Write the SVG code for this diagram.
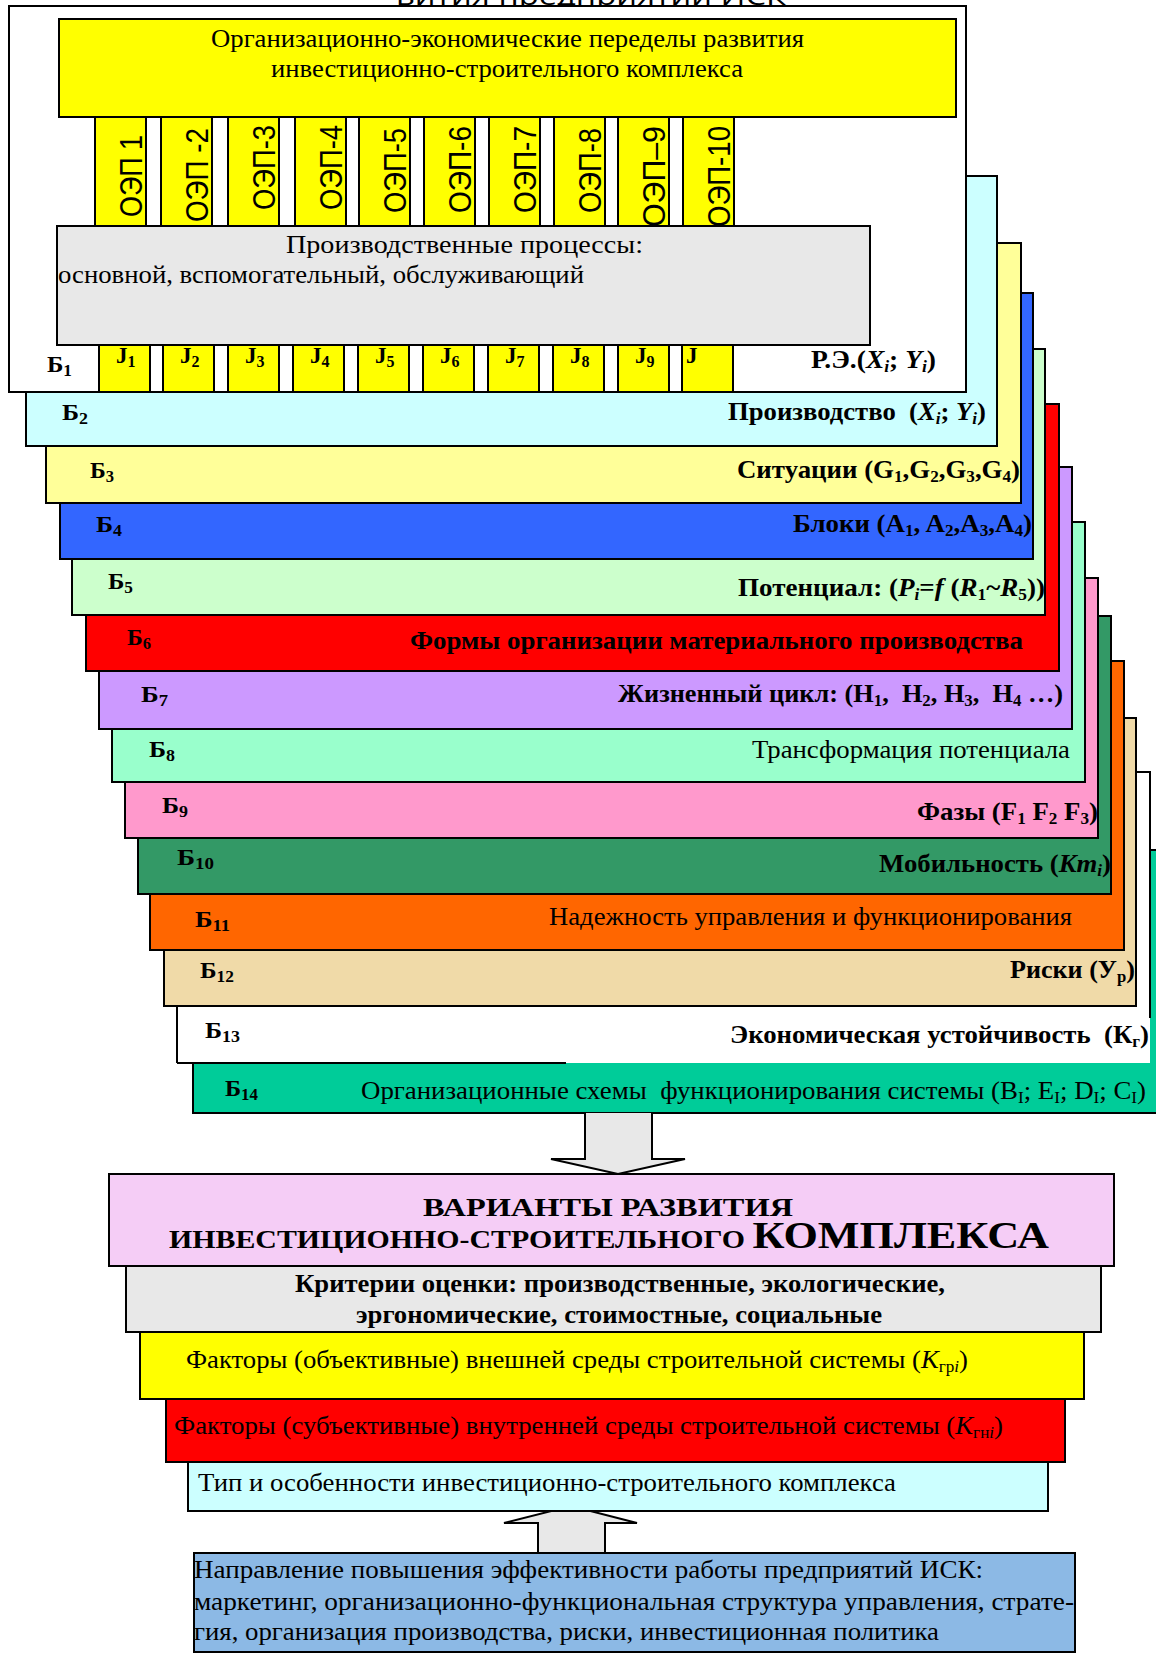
<svg xmlns="http://www.w3.org/2000/svg" width="1156" height="1677" viewBox="0 0 1156 1677">
  <style>
    .bx { stroke: #000; stroke-width: 2; }
    .ln { fill: none; stroke: #000; stroke-width: 2; }
    .t { font-family: "Liberation Serif", "Times New Roman", serif; font-size: 25px; fill: #000; }
    .tb { font-family: "Liberation Serif", "Times New Roman", serif; font-size: 25px; font-weight: bold; fill: #000; }
    .lb { font-family: "Liberation Serif", "Times New Roman", serif; font-size: 23px; font-weight: bold; fill: #000; }
    .sb { font-size: 16px; }
    .it { font-style: italic; }
    .oep { font-family: "Liberation Sans", Arial, sans-serif; font-size: 27px; fill: #000; }
    .arrow { fill: #e8e8e8; stroke: #000; stroke-width: 2; stroke-linejoin: miter; }
  </style>

  <rect width="1156" height="1677" fill="#fff"/>

  <!-- caption line running off the top edge -->
  <text x="396" y="5" font-family="'Open Sans', 'Liberation Sans', sans-serif" font-size="26" textLength="390" lengthAdjust="spacingAndGlyphs">вития предприятий ИСК</text>

  <!-- ===== stacked layers, lowest first ===== -->
  <g id="layer-b14">
    <rect class="bx" x="193" y="850" width="977" height="263" fill="#00cc99"/>
    <text class="lb" x="225" y="1096" textLength="33" lengthAdjust="spacingAndGlyphs">Б<tspan class="sb" dy="4">14</tspan></text>
    <text class="t" x="361" y="1099" textLength="785" lengthAdjust="spacingAndGlyphs" xml:space="preserve">Организационные схемы  функционирования системы (B<tspan class="sb" dy="4">I</tspan><tspan dy="-4">; E</tspan><tspan class="sb" dy="4">I</tspan><tspan dy="-4">; D</tspan><tspan class="sb" dy="4">I</tspan><tspan dy="-4">; C</tspan><tspan class="sb" dy="4">I</tspan><tspan dy="-4">)</tspan></text>
  </g>

  <g id="layer-b13">
    <rect x="177" y="772" width="973" height="291" fill="#fff"/>
    <path class="ln" d="M177,1063 L177,772 L1150,772 L1150,1018 M177,1063 L566,1063"/>
    <text class="lb" x="205" y="1038" textLength="35" lengthAdjust="spacingAndGlyphs">Б<tspan class="sb" dy="4">13</tspan></text>
    <text class="tb" x="730" y="1043" textLength="419" lengthAdjust="spacingAndGlyphs" xml:space="preserve">Экономическая устойчивость  (К<tspan class="sb" dy="4">г</tspan><tspan dy="-4">)</tspan></text>
  </g>

  <g id="layer-b12">
    <rect class="bx" x="164" y="718" width="972" height="288" fill="#f0daa8"/>
    <text class="lb" x="200" y="978" textLength="34" lengthAdjust="spacingAndGlyphs">Б<tspan class="sb" dy="4">12</tspan></text>
    <text class="tb" x="1010" y="978" textLength="125" lengthAdjust="spacingAndGlyphs">Риски (У<tspan class="sb" dy="4">р</tspan><tspan dy="-4">)</tspan></text>
  </g>

  <g id="layer-b11">
    <rect class="bx" x="150" y="661" width="974" height="289" fill="#ff6600"/>
    <text class="lb" x="195" y="927" textLength="35" lengthAdjust="spacingAndGlyphs">Б<tspan class="sb" dy="4">11</tspan></text>
    <text class="t" x="549" y="925" textLength="523" lengthAdjust="spacingAndGlyphs">Надежность управления и функционирования</text>
  </g>

  <g id="layer-b10">
    <rect class="bx" x="138" y="616" width="973" height="278" fill="#339966"/>
    <text class="lb" x="177" y="865" textLength="37" lengthAdjust="spacingAndGlyphs">Б<tspan class="sb" dy="4">10</tspan></text>
    <text class="tb" x="879" y="872" textLength="232" lengthAdjust="spacingAndGlyphs">Мобильность (<tspan class="it">Km</tspan><tspan class="sb it" dy="4">i</tspan><tspan dy="-4">)</tspan></text>
  </g>

  <g id="layer-b9">
    <rect class="bx" x="125" y="578" width="973" height="260" fill="#ff99cc"/>
    <text class="lb" x="162" y="813" textLength="26" lengthAdjust="spacingAndGlyphs">Б<tspan class="sb" dy="4">9</tspan></text>
    <text class="tb" x="917" y="820" textLength="181" lengthAdjust="spacingAndGlyphs">Фазы (F<tspan class="sb" dy="4">1</tspan><tspan dy="-4"> F</tspan><tspan class="sb" dy="4">2</tspan><tspan dy="-4"> F</tspan><tspan class="sb" dy="4">3</tspan><tspan dy="-4">)</tspan></text>
  </g>

  <g id="layer-b8">
    <rect class="bx" x="112" y="522" width="973" height="260" fill="#99ffcc"/>
    <text class="lb" x="149" y="757" textLength="26" lengthAdjust="spacingAndGlyphs">Б<tspan class="sb" dy="4">8</tspan></text>
    <text class="t" x="752" y="758" textLength="318" lengthAdjust="spacingAndGlyphs">Трансформация потенциала</text>
  </g>

  <g id="layer-b7">
    <rect class="bx" x="99" y="467" width="973" height="262" fill="#cc99ff"/>
    <text class="lb" x="141" y="702" textLength="27" lengthAdjust="spacingAndGlyphs">Б<tspan class="sb" dy="4">7</tspan></text>
    <text class="tb" x="618" y="702" textLength="445" lengthAdjust="spacingAndGlyphs" xml:space="preserve">Жизненный цикл: (H<tspan class="sb" dy="4">1</tspan><tspan dy="-4">,  H</tspan><tspan class="sb" dy="4">2</tspan><tspan dy="-4">, H</tspan><tspan class="sb" dy="4">3</tspan><tspan dy="-4">,  H</tspan><tspan class="sb" dy="4">4</tspan><tspan dy="-4"> …)</tspan></text>
  </g>

  <g id="layer-b6">
    <rect class="bx" x="86" y="404" width="973" height="267" fill="#ff0000"/>
    <text class="lb" x="127" y="645" textLength="24" lengthAdjust="spacingAndGlyphs">Б<tspan class="sb" dy="4">6</tspan></text>
    <text class="tb" x="410" y="649" textLength="613" lengthAdjust="spacingAndGlyphs">Формы организации материального производства</text>
  </g>

  <g id="layer-b5">
    <rect class="bx" x="72" y="349" width="973" height="266" fill="#ccffcc"/>
    <text class="lb" x="108" y="589" textLength="25" lengthAdjust="spacingAndGlyphs">Б<tspan class="sb" dy="4">5</tspan></text>
    <text class="tb" x="738" y="596" textLength="307" lengthAdjust="spacingAndGlyphs">Потенциал: (<tspan class="it">P</tspan><tspan class="sb it" dy="4">i</tspan><tspan dy="-4">=</tspan><tspan class="it">f</tspan> (<tspan class="it">R</tspan><tspan class="sb" dy="4">1</tspan><tspan dy="-4">~</tspan><tspan class="it">R</tspan><tspan class="sb" dy="4">5</tspan><tspan dy="-4">))</tspan></text>
  </g>

  <g id="layer-b4">
    <rect class="bx" x="60" y="293" width="973" height="266" fill="#3366ff"/>
    <text class="lb" x="96" y="532" textLength="26" lengthAdjust="spacingAndGlyphs">Б<tspan class="sb" dy="4">4</tspan></text>
    <text class="tb" x="793" y="532" textLength="239" lengthAdjust="spacingAndGlyphs">Блоки (A<tspan class="sb" dy="4">1</tspan><tspan dy="-4">, A</tspan><tspan class="sb" dy="4">2</tspan><tspan dy="-4">,A</tspan><tspan class="sb" dy="4">3</tspan><tspan dy="-4">,A</tspan><tspan class="sb" dy="4">4</tspan><tspan dy="-4">)</tspan></text>
  </g>

  <g id="layer-b3">
    <rect class="bx" x="46" y="243" width="975" height="260" fill="#ffff99"/>
    <text class="lb" x="90" y="478" textLength="24" lengthAdjust="spacingAndGlyphs">Б<tspan class="sb" dy="4">3</tspan></text>
    <text class="tb" x="737" y="478" textLength="283" lengthAdjust="spacingAndGlyphs">Ситуации (G<tspan class="sb" dy="4">1</tspan><tspan dy="-4">,G</tspan><tspan class="sb" dy="4">2</tspan><tspan dy="-4">,G</tspan><tspan class="sb" dy="4">3</tspan><tspan dy="-4">,G</tspan><tspan class="sb" dy="4">4</tspan><tspan dy="-4">)</tspan></text>
  </g>

  <g id="layer-b2">
    <rect class="bx" x="26" y="176" width="971" height="270" fill="#ccffff"/>
    <text class="lb" x="62" y="420" textLength="26" lengthAdjust="spacingAndGlyphs">Б<tspan class="sb" dy="4">2</tspan></text>
    <text class="tb" x="728" y="420" textLength="258" lengthAdjust="spacingAndGlyphs" xml:space="preserve">Производство  (<tspan class="it">X</tspan><tspan class="sb it" dy="4">i</tspan><tspan dy="-4">; </tspan><tspan class="it">Y</tspan><tspan class="sb it" dy="4">i</tspan><tspan dy="-4">)</tspan></text>
  </g>

  <g id="layer-b1">
    <rect class="bx" x="9" y="6" width="957" height="386" fill="#fff"/>

    <!-- ОЭП columns -->
    <g id="oep-columns">
      <rect class="bx" x="95" y="117" width="51" height="228" fill="#ffff00"/>
      <rect class="bx" x="161" y="117" width="51" height="228" fill="#ffff00"/>
      <rect class="bx" x="228" y="117" width="51" height="228" fill="#ffff00"/>
      <rect class="bx" x="295" y="117" width="51" height="228" fill="#ffff00"/>
      <rect class="bx" x="359" y="117" width="51" height="228" fill="#ffff00"/>
      <rect class="bx" x="424" y="117" width="51" height="228" fill="#ffff00"/>
      <rect class="bx" x="489" y="117" width="51" height="228" fill="#ffff00"/>
      <rect class="bx" x="554" y="117" width="51" height="228" fill="#ffff00"/>
      <rect class="bx" x="618" y="117" width="51" height="228" fill="#ffff00"/>
      <rect class="bx" x="683" y="117" width="51" height="228" fill="#ffff00"/>
      <text class="oep" transform="translate(142,217) scale(1.15,1) rotate(-90)" textLength="82" lengthAdjust="spacingAndGlyphs">ОЭП 1</text>
      <text class="oep" transform="translate(208,222) scale(1.15,1) rotate(-90)" textLength="94" lengthAdjust="spacingAndGlyphs">ОЭП -2</text>
      <text class="oep" transform="translate(275,210) scale(1.15,1) rotate(-90)" textLength="85" lengthAdjust="spacingAndGlyphs">ОЭП-3</text>
      <text class="oep" transform="translate(342,210) scale(1.15,1) rotate(-90)" textLength="85" lengthAdjust="spacingAndGlyphs">ОЭП-4</text>
      <text class="oep" transform="translate(406,213) scale(1.15,1) rotate(-90)" textLength="85" lengthAdjust="spacingAndGlyphs">ОЭП-5</text>
      <text class="oep" transform="translate(471,213) scale(1.15,1) rotate(-90)" textLength="87" lengthAdjust="spacingAndGlyphs">ОЭП-6</text>
      <text class="oep" transform="translate(536,213) scale(1.15,1) rotate(-90)" textLength="87" lengthAdjust="spacingAndGlyphs">ОЭП-7</text>
      <text class="oep" transform="translate(601,213) scale(1.15,1) rotate(-90)" textLength="85" lengthAdjust="spacingAndGlyphs">ОЭП-8</text>
      <text class="oep" transform="translate(665,227) scale(1.15,1) rotate(-90)" textLength="101" lengthAdjust="spacingAndGlyphs">ОЭП–9</text>
      <text class="oep" transform="translate(730,227) scale(1.15,1) rotate(-90)" textLength="101" lengthAdjust="spacingAndGlyphs">ОЭП-10</text>
    </g>

    <g id="title-box">
      <rect class="bx" x="59" y="19" width="897" height="98" fill="#ffff00"/>
      <text class="t" x="211" y="47" font-size="24" textLength="593" lengthAdjust="spacingAndGlyphs">Организационно-экономические переделы развития</text>
      <text class="t" x="271" y="77" font-size="24" textLength="472" lengthAdjust="spacingAndGlyphs">инвестиционно-строительного комплекса</text>
    </g>

    <g id="processes-box">
      <rect class="bx" x="57" y="226" width="813" height="119" fill="#e8e8e8"/>
      <text class="t" x="286" y="253" font-size="24" textLength="357" lengthAdjust="spacingAndGlyphs">Производственные процессы:</text>
      <text class="t" x="58" y="283" font-size="24" textLength="526" lengthAdjust="spacingAndGlyphs">основной, вспомогательный, обслуживающий</text>
    </g>

    <!-- J cells -->
    <g id="j-cells">
      <rect class="bx" x="99" y="345" width="51" height="47" fill="#ffff00"/>
      <rect class="bx" x="163" y="345" width="51" height="47" fill="#ffff00"/>
      <rect class="bx" x="228" y="345" width="51" height="47" fill="#ffff00"/>
      <rect class="bx" x="293" y="345" width="51" height="47" fill="#ffff00"/>
      <rect class="bx" x="358" y="345" width="51" height="47" fill="#ffff00"/>
      <rect class="bx" x="423" y="345" width="51" height="47" fill="#ffff00"/>
      <rect class="bx" x="488" y="345" width="51" height="47" fill="#ffff00"/>
      <rect class="bx" x="553" y="345" width="51" height="47" fill="#ffff00"/>
      <rect class="bx" x="618" y="345" width="51" height="47" fill="#ffff00"/>
      <rect class="bx" x="682" y="345" width="51" height="47" fill="#ffff00"/>
      <text class="lb" x="116" y="363">J<tspan class="sb" dy="4">1</tspan></text>
      <text class="lb" x="180" y="363">J<tspan class="sb" dy="4">2</tspan></text>
      <text class="lb" x="245" y="363">J<tspan class="sb" dy="4">3</tspan></text>
      <text class="lb" x="310" y="363">J<tspan class="sb" dy="4">4</tspan></text>
      <text class="lb" x="375" y="363">J<tspan class="sb" dy="4">5</tspan></text>
      <text class="lb" x="440" y="363">J<tspan class="sb" dy="4">6</tspan></text>
      <text class="lb" x="505" y="363">J<tspan class="sb" dy="4">7</tspan></text>
      <text class="lb" x="570" y="363">J<tspan class="sb" dy="4">8</tspan></text>
      <text class="lb" x="635" y="363">J<tspan class="sb" dy="4">9</tspan></text>
      <text class="lb" x="686" y="363">J</text>
    </g>

    <text class="lb" x="47" y="372" textLength="25" lengthAdjust="spacingAndGlyphs">Б<tspan class="sb" dy="4">1</tspan></text>
    <text class="tb" x="811" y="368" textLength="125" lengthAdjust="spacingAndGlyphs">Р.Э.(<tspan class="it">X</tspan><tspan class="sb it" dy="4">i</tspan><tspan dy="-4">; </tspan><tspan class="it">Y</tspan><tspan class="sb it" dy="4">i</tspan><tspan dy="-4">)</tspan></text>
  </g>

  <!-- ===== block arrows ===== -->
  <g id="connectors">
    <path class="arrow" d="M585,1113 L585,1159 L551,1159 L618,1174 L685,1159 L652,1159 L652,1113"/>
    <path class="arrow" d="M538,1553 L538,1523 L504,1523 L571,1506 L637,1523 L605,1523 L605,1553"/>
  </g>

  <!-- ===== lower column of boxes ===== -->
  <g id="criteria-box">
    <rect class="bx" x="126" y="1266" width="975" height="66" fill="#e8e8e8"/>
    <text class="tb" x="295" y="1292" font-size="24" textLength="650" lengthAdjust="spacingAndGlyphs">Критерии оценки: производственные, экологические,</text>
    <text class="tb" x="356" y="1323" font-size="24" textLength="526" lengthAdjust="spacingAndGlyphs">эргономические, стоимостные, социальные</text>
  </g>

  <g id="variants-box">
    <rect class="bx" x="109" y="1174" width="1005" height="92" fill="#f5cdf6"/>
    <text class="tb" x="423" y="1216" font-size="31" textLength="370" lengthAdjust="spacingAndGlyphs">ВАРИАНТЫ РАЗВИТИЯ</text>
    <text class="tb" x="169" y="1248" font-size="31" textLength="880" lengthAdjust="spacingAndGlyphs">ИНВЕСТИЦИОННО-СТРОИТЕЛЬНОГО <tspan font-size="37">КОМПЛЕКСА</tspan></text>
  </g>

  <g id="external-factors">
    <rect class="bx" x="140" y="1332" width="944" height="67" fill="#ffff00"/>
    <text class="t" x="186" y="1368" font-size="24" textLength="782" lengthAdjust="spacingAndGlyphs">Факторы (объективные) внешней среды строительной системы (<tspan class="it">K</tspan><tspan class="sb" dy="4">гр</tspan><tspan class="sb it">i</tspan><tspan dy="-4">)</tspan></text>
  </g>

  <g id="internal-factors">
    <rect class="bx" x="166" y="1399" width="899" height="63" fill="#ff0000"/>
    <text class="t" x="174" y="1434" font-size="24" textLength="829" lengthAdjust="spacingAndGlyphs">Факторы (субъективные) внутренней среды строительной системы (<tspan class="it">K</tspan><tspan class="sb" dy="4">гн</tspan><tspan class="sb it">i</tspan><tspan dy="-4">)</tspan></text>
  </g>

  <g id="complex-type">
    <rect class="bx" x="188" y="1462" width="860" height="49" fill="#ccffff"/>
    <text class="t" x="198" y="1491" font-size="24" textLength="698" lengthAdjust="spacingAndGlyphs">Тип и особенности инвестиционно-строительного комплекса</text>
  </g>

  <g id="directions-box">
    <rect class="bx" x="194" y="1553" width="881" height="99" fill="#8cb9e5"/>
    <text class="t" x="194" y="1578" font-size="24" textLength="789" lengthAdjust="spacingAndGlyphs">Направление повышения эффективности работы предприятий ИСК:</text>
    <text class="t" x="194" y="1610" font-size="24" textLength="880" lengthAdjust="spacingAndGlyphs">маркетинг, организационно-функциональная структура управления, страте-</text>
    <text class="t" x="194" y="1640" font-size="24" textLength="745" lengthAdjust="spacingAndGlyphs">гия, организация производства, риски, инвестиционная политика</text>
  </g>
</svg>
